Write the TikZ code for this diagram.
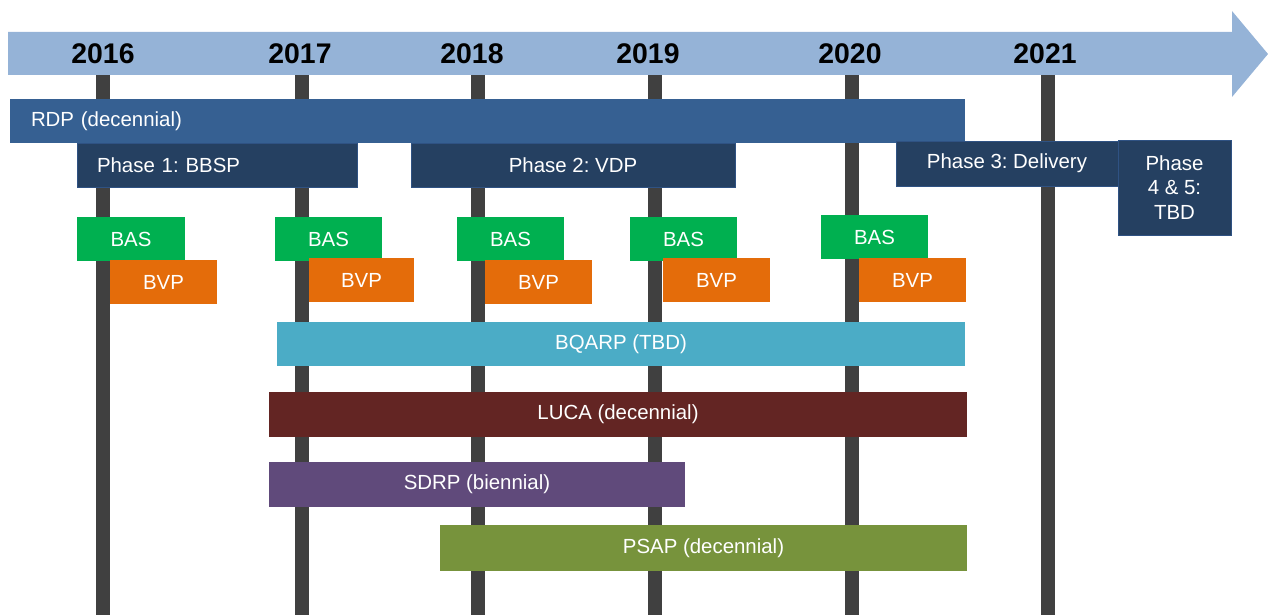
\documentclass[tikz,border=0pt]{standalone}
\usepackage{fontspec}
\setmainfont{Liberation Sans}
\frenchspacing
\definecolor{arrowblue}{HTML}{95B3D7}
\definecolor{rdpblue}{HTML}{366092}
\definecolor{phaseblue}{HTML}{254061}
\definecolor{phaseedge}{HTML}{2F5283}
\definecolor{basgreen}{HTML}{00B050}
\definecolor{bvporange}{HTML}{E46C0A}
\definecolor{bqarpcyan}{HTML}{4BACC6}
\definecolor{lucared}{HTML}{632523}
\definecolor{sdrppurple}{HTML}{604A7B}
\definecolor{psapgreen}{HTML}{77933C}
\definecolor{linegray}{HTML}{404040}
\newcommand{\lblfont}{\fontsize{20.5}{24.5}\selectfont}
\newcommand{\yrfont}{\fontsize{28.5}{32}\selectfont\bfseries}
\tikzset{
  bar/.style={rectangle, inner sep=0pt, outer sep=0pt, text=white, font=\lblfont, anchor=north west},
  leftbar/.style={bar, align=left, inner xsep=#1},
  phase/.style={fill=phaseblue, draw=phaseedge, line width=0.8bp},
  yearlbl/.style={font=\yrfont, text=black, inner sep=0pt},
  yearline/.style={draw=linegray, line width=14bp},
}
\begin{document}
\begin{tikzpicture}[x=1bp, y=-1bp]
\useasboundingbox (0,0) rectangle (1268,615);
% year lines
\foreach \n/\x in {a/103, b/302, c/478, d/655, e/852, f/1048}{
  \coordinate (\n top) at (\x,75);
  \coordinate (\n bot) at (\x,615);
  \draw[yearline] (\n top) -- (\n bot);
}
% timeline arrow
\fill[arrowblue] (8,32) -- (1232,32) -- (1232,11) -- (1268,54) -- (1232,97) -- (1232,75) -- (8,75) -- cycle;
% years
\node[yearlbl] (y2016) at (103,54) {2016};
\node[yearlbl] (y2017) at (300,54) {2017};
\node[yearlbl] (y2018) at (472,54) {2018};
\node[yearlbl] (y2019) at (648,54) {2019};
\node[yearlbl] (y2020) at (850,54) {2020};
\node[yearlbl] (y2021) at (1045,54) {2021};
% RDP
\node[leftbar=21bp, fill=rdpblue, text width=913bp, minimum height=44bp] (rdp) at (10,99) {RDP (decennial)};
% phases
\node[leftbar=20bp, phase, text width=240bp, minimum height=44bp] (ph1) at (77,143) {Phase 1: BBSP};
\node[bar, phase, minimum width=324bp, minimum height=44bp] (ph2) at (411,143) {Phase 2: VDP};
\node[bar, phase, minimum width=222bp, minimum height=45bp] (ph3) at (896,141) {Phase 3: Delivery};
\node[bar, phase, minimum width=113bp, minimum height=95bp, align=center] (ph45) at (1118,140) {Phase\\4 \& 5:\\TBD};
% BAS / BVP
\node[bar, fill=basgreen, minimum width=108bp, minimum height=44bp] (bas1) at (77,217) {BAS};
\node[bar, fill=bvporange, minimum width=107bp, minimum height=44bp] (bvp1) at (110,260) {BVP};
\node[bar, fill=basgreen, minimum width=107bp, minimum height=44bp] (bas2) at (275,217) {BAS};
\node[bar, fill=bvporange, minimum width=105bp, minimum height=44bp] (bvp2) at (309,258) {BVP};
\node[bar, fill=basgreen, minimum width=107bp, minimum height=44bp] (bas3) at (457,217) {BAS};
\node[bar, fill=bvporange, minimum width=107bp, minimum height=44bp] (bvp3) at (485,260) {BVP};
\node[bar, fill=basgreen, minimum width=107bp, minimum height=44bp] (bas4) at (630,217) {BAS};
\node[bar, fill=bvporange, minimum width=107bp, minimum height=44bp] (bvp4) at (663,258) {BVP};
\node[bar, fill=basgreen, minimum width=107bp, minimum height=44bp] (bas5) at (821,215) {BAS};
\node[bar, fill=bvporange, minimum width=107bp, minimum height=44bp] (bvp5) at (859,258) {BVP};
% programs
\node[bar, fill=bqarpcyan, minimum width=688bp, minimum height=44bp] (bqarp) at (277,322) {BQARP (TBD)};
\node[bar, fill=lucared, minimum width=698bp, minimum height=45bp] (luca) at (269,392) {LUCA (decennial)};
\node[bar, fill=sdrppurple, minimum width=416bp, minimum height=45bp] (sdrp) at (269,462) {SDRP (biennial)};
\node[bar, fill=psapgreen, minimum width=527bp, minimum height=46bp] (psap) at (440,525) {PSAP (decennial)};
\end{tikzpicture}
\end{document}
